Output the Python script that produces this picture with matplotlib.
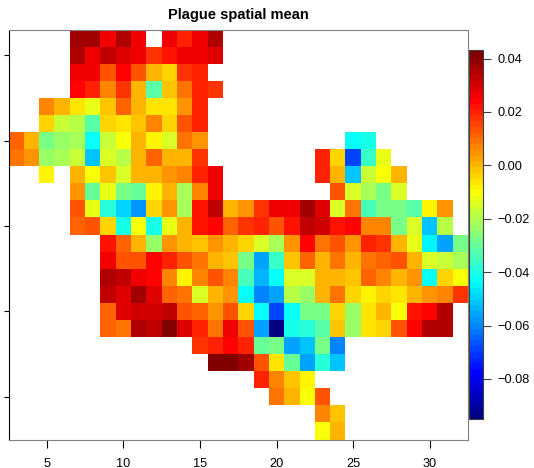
import numpy as np
import matplotlib
matplotlib.use("Agg")
import matplotlib.pyplot as plt
from matplotlib.colors import LinearSegmentedColormap

plt.rcParams['font.family'] = ['Liberation Sans', 'DejaVu Sans']

n = np.nan

# first column of every row, top row first
row_start = [7, 7, 7, 7, 5, 5, 3, 3, 5, 7, 7, 7, 9, 9, 9, 9, 9, 9, 15, 16, 19, 20, 23, 23]

# spatial mean in units of 0.001, top row first, left to right
rows = [
    [37, 37, 26, 35, 26, n, 26, 20, 28, 35],
    [35, 28, 33, 30, 26, 18, 22, 26, 28, 30],
    [28, 28, 15, 24, 15, 1, -4, 18, 20],
    [24, 20, 7, 18, 1, -32, -1, 9, 20, 18],
    [7, 1, -6, -12, -2, 11, 2, -6, -6, 5, 20],
    [-3, -17, -19, -32, -3, -6, -2, 7, -3, 13, 20],
    [11, 1, -28, -23, -21, -43, -17, -10, 1, -8, -15, 9, 5, n, n, n, n, n, n, n, n, n,
     -43, -41],
    [9, 5, -23, -21, -17, -51, -15, -19, 2, 11, 2, 2, 18, n, n, n, n, n, n, n, 20, -4,
     -69, -36, -12],
    [-8, n, 1, -10, -2, -15, 2, 2, 5, 7, 20, 28, n, n, n, n, n, n, 20, 2, -51, -17, -10, 2],
    [5, -30, -12, -26, -30, -8, 2, -21, 7, 28, n, n, n, n, n, n, n, 15, -15, -21, -26, -15],
    [15, -12, -38, -49, -58, -4, 5, -21, 22, 33, 1, 5, 18, 28, 26, 37, 30, -15, 9, -34,
     -26, -28, -32, -8, 5],
    [11, 15, -3, -41, -10, -41, -12, 2, 22, 24, 11, 18, 20, 15, 22, 33, 31, 22, 24, 7, 7,
     -28, -15, -51, -19],
    [22, 11, 1, -23, 5, 1, -2, 5, 2, -3, -15, -21, 5, 24, 9, 13, 5, 20, 18, 2, -12, -45,
     -56, -26],
    [28, 15, 15, 24, 20, 15, 9, 2, -2, -26, -56, -36, -2, 11, 2, 9, 1, 9, 11, 13, 1, -15,
     -17, -21],
    [35, 33, 28, 24, 7, -8, 7, 15, 7, -34, -53, -43, -15, -15, 1, 1, -2, 11, 7, 2, 5, -43,
     -3, -10],
    [34, 30, 37, 30, 11, 9, -15, 2, 6, -43, -60, -56, -19, -23, 2, 9, -3, -8, -3, -6, 2,
     5, 7, 18],
    [11, 29, 31, 31, 34, 15, 12, 6, 13, -3, -43, -69, -43, -26, -26, -3, -23, -6, 1, -10,
     22, 24, 35],
    [11, 9, 36, 34, 43, 30, 20, 10, 28, 15, -56, -93.5, -41, -38, -32, 0, -23, -6, -3,
     13, 24, 36, 36],
    [18, 20, 24, 20, -30, -26, -56, -51, -28, -60],
    [42, 43, 37, 14, -6, -30, -56, -38, -51],
    [20, 7, -2, -8],
    [9, 1, -10, 13],
    [7, -2],
    [-10, 2],
]

x_ticks = [5, 10, 15, 20, 25, 30]
y_ticks = [3, 8, 13, 18, 23]
bar_ticks = [0.04, 0.02, 0.00, -0.02, -0.04, -0.06, -0.08]
vmin, vmax = -0.095, 0.0432

# put the rows in a grid, x runs from 3 to 32 and y from 1 to 24
grid = np.full((24, 30), np.nan)
for i in range(len(rows)):
    start = row_start[i] - 3
    grid[23 - i, start:start + len(rows[i])] = np.array(rows[i]) / 1000

# same colours as tim.colors
tim = LinearSegmentedColormap.from_list(
    "tim",
    [(0, (0, 0, 0.5)), (1 / 8, (0, 0, 1)), (3 / 8, (0, 1, 1)),
     (5 / 8, (1, 1, 0)), (7 / 8, (1, 0, 0)), (1, (0.5, 0, 0))],
    N=64,
)

W, H = 534, 468
fig = plt.figure(figsize=(W / 100, H / 100), dpi=100)
ax = fig.add_axes([8.5 / W, 1 - 439.5 / H, (468 - 8.5) / W, (439.5 - 29.5) / H])
cax = fig.add_axes([469 / W, 1 - 419 / H, 14 / W, (419 - 50) / H])

xe = np.arange(2.5, 33.5)
ye = np.arange(0.5, 25.5)
mesh = ax.pcolormesh(xe, ye, grid, cmap=tim, vmin=vmin, vmax=vmax, antialiased=False)
ax.set_xlim(2.5, 32.5)
ax.set_ylim(0.5, 24.5)
ax.set_xticks(x_ticks)
ax.set_yticks(y_ticks)
ax.set_yticklabels([])
ax.tick_params(axis="x", length=6, width=0.8, labelsize=9.2, pad=7)
ax.tick_params(axis="y", length=3.3, width=0.8)
for side in ["top", "right", "bottom"]:
    ax.spines[side].set_color("#808080")
ax.set_title("Plague spatial mean", fontsize=10.5, fontweight="bold", pad=7.7)

cb = fig.colorbar(mesh, cax=cax)
cb.set_ticks(bar_ticks)
cb.ax.tick_params(length=5.4, width=0.8, labelsize=9.2, pad=5, color="#404040")
cb.outline.set_edgecolor("#404040")
cb.solids.set_edgecolor("face")

fig.savefig("out.png", dpi=100)
